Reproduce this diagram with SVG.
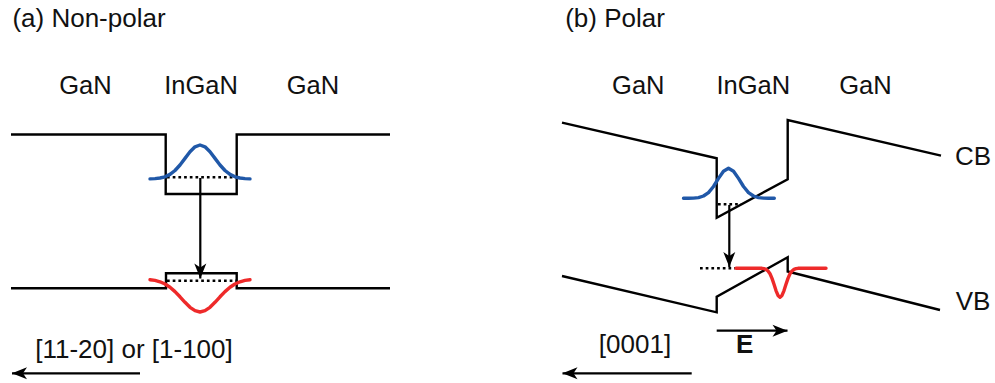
<svg xmlns="http://www.w3.org/2000/svg" width="995" height="383" viewBox="0 0 995 383">
  <style>
    text { font-family: "Liberation Sans", Arial, sans-serif; fill: #111; text-anchor: middle; }
    .title { font-size: 26px; }
    .label { font-size: 25.5px; }
    .band { fill: none; stroke: #000; stroke-width: 2.4; stroke-linejoin: miter; }
    .level { fill: none; stroke: #000; stroke-width: 2.6; stroke-dasharray: 2.7 3; }
    .elec { fill: none; stroke: #2058a8; stroke-width: 3.4; stroke-linejoin: round; stroke-linecap: round; }
    .hole { fill: none; stroke: #ee2a2a; stroke-width: 3.4; stroke-linejoin: round; stroke-linecap: round; }
    .arrow { fill: none; stroke: #000; stroke-width: 2.2; marker-end: url(#head); }
  </style>
  <defs>
    <marker id="head" markerUnits="userSpaceOnUse" viewBox="-16 -7 17 14" refX="0" refY="0" markerWidth="17" markerHeight="14" orient="auto">
      <path d="M0,0 L-15,-6 L-11,0 L-15,6 Z" fill="#000"/>
    </marker>
  </defs>

  <rect width="995" height="383" fill="#fff"/>

  <!-- panel titles -->
  <text class="title" x="89" y="27">(a) Non-polar</text>
  <text class="title" x="615" y="27">(b) Polar</text>

  <!-- (a) non-polar band diagram -->
  <g id="nonpolar-layers">
    <text class="label" x="85.5" y="94.3">GaN</text>
    <text class="label" x="201" y="94.3">InGaN</text>
    <text class="label" x="313" y="94.3">GaN</text>
  </g>
  <g id="nonpolar-cb">
    <path class="band" d="M11,134.5 H165.7 V194 H236.7 V134.5 H390"/>
    <path class="level" d="M167,177.3 H236"/>
    <polyline class="elec" points="150,178.9 155,178.6 160,178 165,176.8 170,174.4 175,170.5 180,165 185,158.4 190,151.8 195,146.8 200,145 205,146.8 210,151.8 215,158.4 220,165 225,170.5 230,174.4 235,176.8 240,178 245,178.6 250,178.9"/>
  </g>
  <g id="nonpolar-vb">
    <path class="band" d="M11,288.3 H166 V273.3 H236.7 V288.3 H390"/>
    <path class="level" d="M167,280.7 H236"/>
    <polyline class="hole" points="150,279.7 155,280.4 160,281.8 165,284 170,287.2 175,291.6 180,296.8 185,302.3 190,307.3 195,310.7 200,312 205,310.7 210,307.3 215,302.3 220,296.8 225,291.6 230,287.2 235,284 240,281.8 245,280.4 250,279.7"/>
  </g>
  <g id="nonpolar-direction">
    <text class="title" x="134" y="358.3">[11-20] or [1-100]</text>
  </g>

  <!-- (b) polar band diagram -->
  <g id="polar-layers">
    <text class="label" x="638.3" y="94.3">GaN</text>
    <text class="label" x="753.3" y="94.3">InGaN</text>
    <text class="label" x="865.5" y="94.3">GaN</text>
  </g>
  <g id="polar-cb">
    <path class="band" d="M562,122.7 L716.7,158.3 V217.7 L787.7,179.3 V120 L941,155.7"/>
    <path class="level" d="M718,204.3 H741"/>
    <polyline class="elec" points="683.5,198.3 688.5,198.3 693.5,198.1 698.5,197.6 703.5,196 708.5,192.6 713.5,186.5 718.5,178.4 723.5,171.2 728.5,168.3 733.5,171.2 738.5,178.4 743.5,186.5 748.5,192.6 753.5,196 758.5,197.6 763.5,198.1 768.5,198.3 774.3,198.3"/>
    <text class="title" x="973" y="165">CB</text>
  </g>
  <g id="polar-vb">
    <path class="band" d="M562,276 L716.7,312.3 V296.7 L787.7,257.3 V271.5 L940,310"/>
    <path class="level" d="M700,268.3 H735"/>
    <polyline class="hole" points="736,268.3 762,268.3 764,268.7 766,269.4 768,271 770,273.8 772,278.4 774,284.3 776,290.6 778,295.4 780,297.3 782,295.4 784,290.6 786,284.3 788,278.4 790,273.8 792,271 794,269.4 796,268.7 798,268.3 826,268.3"/>
    <text class="title" x="973" y="310">VB</text>
  </g>
  <g id="polar-direction">
    <text class="title" x="635" y="353.3">[0001]</text>
    <text class="title" x="744.7" y="353.3" font-weight="bold">E</text>
  </g>

  <!-- connectors: transitions, crystal directions and field -->
  <g id="connectors">
    <path class="arrow" d="M200.3,178 V278.5"/>
    <path class="arrow" d="M729.3,205 V267"/>
    <path class="arrow" d="M140,373.3 H12"/>
    <path class="arrow" d="M691.7,373.3 H562.5"/>
    <path class="arrow" d="M716.7,330.7 H787.5"/>
  </g>
</svg>
